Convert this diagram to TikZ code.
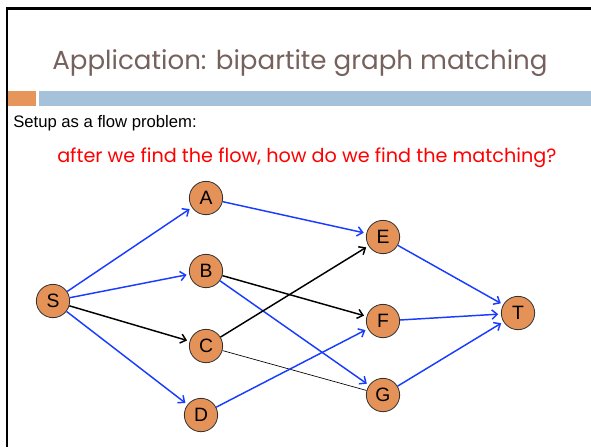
\documentclass[tikz,border=0pt]{standalone}
\usepackage{fontspec}
\setmainfont{Liberation Sans}
\newfontfamily\slidefont{Poppins}
\usetikzlibrary{arrows.meta}

\definecolor{titlebrown}{RGB}{118,98,92}
\definecolor{nodeorange}{RGB}{228,146,88}
\definecolor{barorange}{RGB}{230,150,90}
\definecolor{barblue}{RGB}{165,194,218}
\definecolor{flowblue}{RGB}{25,60,255}

\tikzset{
  vertex/.style={circle, draw=black!80, line width=0.6pt, fill=nodeorange,
    minimum size=25pt, inner sep=0pt, font=\fontsize{14.5}{14}\selectfont},
  flow/.style={-{Straight Barb[length=4pt,width=7pt]}, line width=1.1pt,
    draw=flowblue, shorten >=2pt},
  noflow/.style={-{Straight Barb[length=4pt,width=7pt]}, line width=1.1pt,
    draw=black, shorten >=2pt},
}

\begin{document}
\begin{tikzpicture}[x=0.75pt, y=-0.75pt]
    \useasboundingbox (0,0) rectangle (591,447);

    % slide frame and bars
    \draw[line width=1.8pt] (7,447) -- (7,8.5) -- (591,8.5);
    \fill[barorange] (8,91) rectangle (36,106);
    \fill[barblue] (39,91) rectangle (591,106);

    % texts
    \node[anchor=base west, inner sep=0pt, text=titlebrown,
        font=\slidefont\fontsize{19.6}{22}\selectfont] (title) at (52,69)
        {Application: bipartite graph matching};
    \node[anchor=base west, inner sep=0pt,
        font=\fontsize{12.5}{14}\selectfont] (setup) at (13,127.5)
        {Setup as a flow problem:};
    \node[anchor=base west, inner sep=0pt, text=red,
        font=\slidefont\fontsize{14.4}{16}\selectfont] (question) at (57,162)
        {after we find the flow, how do we find the matching?};

    % nodes
    \node[vertex] (S) at (53,301) {S};
    \node[vertex] (A) at (206,198) {A};
    \node[vertex] (B) at (206,271) {B};
    \node[vertex] (C) at (206,346) {C};
    \node[vertex] (D) at (201,415) {D};
    \node[vertex] (E) at (383,237) {E};
    \node[vertex] (F) at (383,321) {F};
    \node[vertex] (G) at (383,395) {G};
    \node[vertex] (T) at (518,313) {T};

    % edges
    \draw[flow] (S) -- (A);
    \draw[flow] (S) -- (B);
    \draw[noflow] (S) -- (C);
    \draw[flow] (S) -- (D);
    \draw[flow] (A) -- (E);
    \draw[noflow] (B) -- (F);
    \draw[flow] (B) -- (G);
    \draw[noflow] (C) -- (E);
    \draw[line width=0.5pt] (C) -- (G);
    \draw[flow] (D) -- (F);
    \draw[flow] (E) -- (T);
    \draw[flow] (F) -- (T);
    \draw[flow] (G) -- (T);
\end{tikzpicture}
\end{document}
